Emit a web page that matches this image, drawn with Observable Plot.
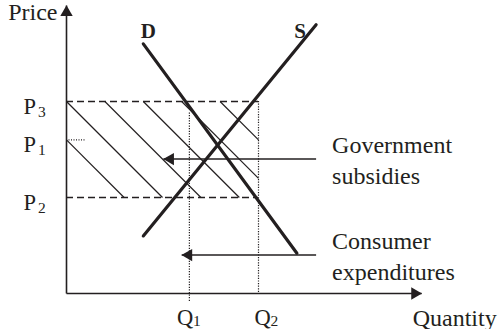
<!DOCTYPE html>
<html><head><meta charset="utf-8">
<script src="https://cdn.jsdelivr.net/npm/d3@7"></script>
<script src="https://cdn.jsdelivr.net/npm/@observablehq/plot@0.6"></script>
<style>
html,body{margin:0;padding:0;background:#fff;}
</style>
</head><body><div id="chart"></div>
<script>
// ---- data ----
const priceLabels = ["P3", "P1", "P2"];
const priceValues = [10, 8, 5];
const quantityLabels = ["Q1", "Q2"];
const quantityValues = [6.4, 10];
const quantityGuideTops = [9.4, 10];
const quantityGuideBottoms = [-0.45, 0];
const demandQ = [4, 12];
const demandP = [13, 2.1];
const supplyQ = [4, 13];
const supplyP = [3, 14];
const hatchSums = [8, 10, 12, 14, 16, 18];
const arrowNames = ["Government\nsubsidies", "Consumer\nexpenditures"];
const arrowPrices = [7, 2];
const arrowFromQ = [13, 13];
const arrowToQ = [5.05, 6];
const quantityAxisMax = 18.5;
const priceAxisMax = 15;
const p1StubLength = 1;

// ---- layout (pixel offsets for labels) ----
const quantityLabelDx = [-12.5, -4];

// ---- derived tables ----
const [P3, P1, P2] = priceValues;
const Q2 = quantityValues[1];
const priceTicks = priceLabels.map((l, i) => ({name: l[0], sub: l.slice(1), value: priceValues[i]}));
const quantityTicks = quantityLabels.map((l, i) => ({
  name: l[0], sub: l.slice(1), value: quantityValues[i],
  top: quantityGuideTops[i], bottom: quantityGuideBottoms[i], dx: quantityLabelDx[i]
}));
const demand = demandQ.map((q, i) => ({q, p: demandP[i]}));
const supply = supplyQ.map((q, i) => ({q, p: supplyP[i]}));
const hatch = hatchSums.map(c => {
  const qa = Math.max(0, c - P3), qb = Math.min(Q2, c - P2);
  return {x1: qa, y1: c - qa, x2: qb, y2: c - qb};
});
const arrows = arrowNames.map((n, i) => ({name: n, p: arrowPrices[i], from: arrowFromQ[i], to: arrowToQ[i]}));
const axes = [
  {x1: 0, y1: 0, x2: quantityAxisMax, y2: 0},
  {x1: 0, y1: 0, x2: 0, y2: priceAxisMax}
];

const ink = "#231f20";
const serif = "Liberation Serif";

const chart = Plot.plot({
  width: 500,
  height: 329,
  x: {domain: [0, 20], range: [66, 450], axis: null},
  y: {domain: [0, 15], range: [293, 5], axis: null},
  style: {fontFamily: serif, background: "white", color: ink, overflow: "visible"},
  marks: [
    // hatched region
    Plot.link(hatch, {x1: "x1", y1: "y1", x2: "x2", y2: "y2", stroke: ink, strokeWidth: 1.2}),
    // price guides
    Plot.ruleY([P3, P2], {x1: 0, x2: Q2, stroke: ink, strokeWidth: 1.3, strokeDasharray: "7,4"}),
    Plot.ruleY([P1], {x1: 0, x2: p1StubLength, stroke: ink, strokeWidth: 1.1, strokeDasharray: "1,1.5"}),
    // quantity guides
    Plot.ruleX(quantityTicks, {x: "value", y1: "top", y2: "bottom", stroke: ink, strokeWidth: 1.2, strokeDasharray: "1.2,1.4"}),
    // demand & supply
    Plot.line(demand, {x: "q", y: "p", stroke: ink, strokeWidth: 3.2}),
    Plot.line(supply, {x: "q", y: "p", stroke: ink, strokeWidth: 3.2}),
    // axes
    Plot.link(axes, {x1: "x1", y1: "y1", x2: "x2", y2: "y2", stroke: ink, strokeWidth: 1.6}),
    Plot.dot([axes[0]], {x: "x2", y: "y2", symbol: "triangle", r: 4.6, rotate: 90, dx: -6.9, fill: ink}),
    Plot.dot([axes[1]], {x: "x2", y: "y2", symbol: "triangle", r: 4.6, rotate: 0, dy: 6.9, fill: ink}),
    // flow arrows
    Plot.link(arrows, {x1: "from", x2: "to", y1: "p", y2: "p", stroke: ink, strokeWidth: 1.5}),
    Plot.dot(arrows, {x: "to", y: "p", symbol: "triangle", r: 4.6, rotate: -90, dx: 6.9, fill: ink}),
    Plot.text(arrows, {x: "from", y: "p", text: "name", textAnchor: "start", lineAnchor: "bottom",
      lineHeight: 1.29, dx: 16, dy: 24.4, fontSize: 24, fill: ink}),
    // price tick labels
    Plot.text(priceTicks, {x: 0, y: "value", text: "name", textAnchor: "start", lineAnchor: "bottom",
      dx: -43, dy: 12, fontSize: 22.5, fill: ink}),
    Plot.text(priceTicks, {x: 0, y: "value", text: "sub", textAnchor: "start", lineAnchor: "bottom",
      dx: -28.5, dy: 15.5, fontSize: 15.5, fill: ink}),
    // quantity tick labels
    ...quantityTicks.map(t => Plot.text([t], {x: "value", y: 0, text: "name", textAnchor: "start", lineAnchor: "bottom",
      dx: t.dx, dy: 31, fontSize: 22.5, fill: ink})),
    ...quantityTicks.map(t => Plot.text([t], {x: "value", y: 0, text: "sub", textAnchor: "start", lineAnchor: "bottom",
      dx: t.dx + 16, dy: 32.5, fontSize: 15.5, fill: ink})),
    // axis titles
    Plot.text(["Price"], {x: 0, y: priceAxisMax, text: d => d, textAnchor: "end", lineAnchor: "bottom",
      dx: -9, dy: 14, fontSize: 24, fill: ink}),
    Plot.text(["Quantity"], {x: quantityAxisMax, y: 0, text: d => d, textAnchor: "start", lineAnchor: "bottom",
      dx: -9, dy: 32, fontSize: 24, fill: ink}),
    // curve labels
    Plot.text(["D"], {x: demandQ[0], y: demandP[0], text: d => d, textAnchor: "middle", lineAnchor: "bottom",
      dx: 5, dy: -6, fontSize: 21, fontWeight: "bold", fill: ink}),
    Plot.text(["S"], {x: supplyQ[1], y: supplyP[1], text: d => d, textAnchor: "middle", lineAnchor: "bottom",
      dx: -16, dy: 13, fontSize: 21, fontWeight: "bold", fill: ink})
  ]
});
document.getElementById("chart").appendChild(chart);
</script>
</body></html>
